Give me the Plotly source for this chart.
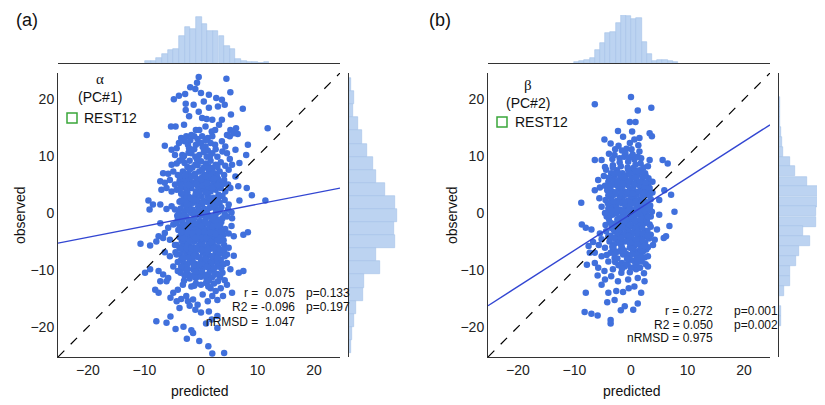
import plotly.graph_objects as go

# ---------------- data ----------------
# panel (a): alpha (PC#1) predicted vs observed
points_a = [
    (-0.4,23.9),(4.5,23.6),(-0.7,22.9),(-1.0,21.8),(-1.9,22.1),(5.2,21.2),(-2.8,20.9),(-3.9,20.6),
    (-4.8,20.0),(0,21.1),(1.4,20.8),(2.7,20.2),(3.7,19.9),(0.5,19.6),(-1.3,19.0),(-2.7,19.2),
    (1.4,18.5),(3.0,18.7),(4.2,19.0),(7.4,18.3),(-2.7,18.1),(-0.4,17.8),(5.3,17.3),(0.2,16.7),
    (1.0,16.5),(2.0,16.4),(-2.1,17.0),(3.7,16.4),(-9.6,13.7),(-4.5,15.2),(-5.3,15.2),(-3.0,15.5),
    (-0.9,14.6),(-0.3,14.6),(0.8,15.2),(1.9,14.3),(2.5,14.6),(3.2,15.5),(5.2,14.6),(6.2,14.9),
    (6.5,13.9),(11.8,14.9),(-3.5,13.2),(-2.6,13.5),(-1.7,13.7),(-1.2,13.5),(0.2,13.5),(1.2,13.2),
    (2.0,13.5),(4.6,13.7),(5.1,13.5),(5.8,14.0),(-3.9,12.3),(-2.9,12.6),(-2.3,12.0),(-6.4,11.8),
    (-5.2,11.1),(-4.3,11.4),(-2.1,11.4),(-0.9,12.0),(0,12.3),(0.8,11.7),(1.7,12.3),(3.7,12.6),
    (4.3,11.7),(8.3,12.0),(6.1,11.1),(8.0,10.2),(-4.6,10.2),(-3.3,10.2),(-1.7,10.5),(-1.0,9.9),
    (-0.3,10.2),(1.0,9.9),(2.0,10.5),(2.9,9.9),(3.8,10.8),(4.6,10.5),(5.1,9.5),(-5.2,8.5),
    (-4.3,8.7),(-3.8,9.2),(-2.9,8.8),(-2.0,9.2),(-1.0,8.5),(0,9.1),(0.9,8.7),(1.7,9.2),
    (2.6,8.5),(3.5,8.9),(4.3,8.3),(5.5,8.5),(6.8,8.8),(-6.7,7.0),(-5.8,6.9),(-4.9,7.3),
    (-4.1,6.7),(-3.2,7.3),(-2.3,7.0),(-1.3,6.7),(-0.3,7.3),(0.6,6.7),(1.4,7.3),(2.4,7.0),
    (3.3,7.3),(4.1,6.7),(4.9,7.6),(6.1,6.4),(-7.2,5.6),(-6.4,5.3),(-5.5,5.8),(-4.6,5.0),
    (-3.8,5.6),(-2.9,5.3),(-2.0,5.8),(-1.2,5.3),(-0.3,5.6),(0.6,5.0),(1.4,5.8),(2.3,5.3),
    (3.2,5.6),(4.1,5.8),(4.8,5.0),(6.6,4.7),(8.1,4.4),(-7.0,4.1),(-6.1,4.4),(-5.2,3.8),
    (-4.3,4.1),(-3.5,4.4),(-2.6,3.8),(-1.7,4.4),(-0.9,3.8),(0,4.1),(0.9,4.4),(1.7,3.8),
    (2.6,4.1),(3.5,4.4),(4.3,3.8),(5.2,4.4),(-9.3,2.2),(-8.5,1.5),(-9.1,0.6),(-7.2,1.5),
    (-6.1,0.7),(-5.2,1.2),(-4.6,0.6),(-3.8,2.0),(-3.1,1.5),(-2.3,2.3),(-1.4,1.8),(-0.6,2.0),
    (0.2,1.5),(1.0,2.0),(1.7,1.5),(2.5,2.3),(3.3,1.8),(4.2,2.3),(4.9,1.5),(6.8,2.2),
    (9.0,3.1),(11.4,2.2),(4.8,0.6),(5.4,0.1),
    (-10.7,-5.4),(-9.0,-5.7),(-7.9,-5.0),(-7.2,-1.8),(-6.4,-3.5),(-5.8,-2.6),(-4.9,-2.0),(-4.1,-1.2),
    (-3.5,-0.3),(-2.6,-0.6),(-1.7,0),(-0.9,-0.5),(0.3,-0.3),(1.4,-0.6),(2.6,-0.2),(3.8,-0.9),
    (4.6,-0.6),(5.5,-0.9),(5.4,-2.3),(4.9,-3.6),(5.8,-4.1),(7.5,-3.8),(8.3,-3.4),(-7.5,-4.1),
    (-6.7,-4.4),(-5.5,-4.7),(-4.6,-5.6),(-3.8,-6.1),(-2.9,-5.3),(-2.0,-5.8),(-1.2,-5.0),(-0.3,-5.6),
    (0.6,-4.7),(1.4,-5.3),(2.3,-5.8),(3.2,-5.0),(4.1,-5.6),(4.9,-6.1),(4.2,-7.6),(5.8,-7.5),
    (-6.4,-6.9),(-5.5,-7.6),(-4.3,-7.3),(-3.5,-8.2),(-2.6,-7.0),(-1.7,-7.9),(-0.9,-7.3),(0,-8.2),
    (0.9,-7.6),(1.7,-8.5),(2.6,-7.0),(3.5,-8.2),(4.6,-8.8),(-9.9,-10.5),(-9.0,-9.9),(-7.5,-10.2),
    (-6.7,-10.8),(-5.8,-11.4),(-7.2,-12.0),(-6.1,-12.0),(-4.9,-9.4),(-4.1,-10.2),(-3.2,-9.6),(-2.3,-10.8),
    (-1.4,-9.9),(-0.6,-10.5),(0.3,-9.6),(1.2,-10.8),(2.0,-9.9),(2.9,-9.4),(3.8,-10.5),(5.2,-9.9),
    (6.7,-10.5),(7.5,-10.2),(-8.1,-13.5),(-7.5,-14.0),(-4.9,-14.0),(-4.1,-13.5),(-3.2,-12.6),(-2.6,-14.6),
    (-1.7,-12.9),(-0.9,-12.4),(0,-12.6),(0.9,-12.3),(1.7,-13.2),(2.6,-13.7),(3.5,-13.2),(4.6,-12.6),
    (5.5,-14.0),(-5.4,-14.9),(-4.3,-15.5),(-3.5,-15.1),(-2.3,-15.5),(-1.4,-15.2),(-0.6,-16.1),(0.3,-14.3),
    (1.2,-15.5),(2.0,-14.6),(2.9,-15.3),(3.9,-14.6),(-3.8,-16.7),(-2.0,-16.3),(-1.0,-17.0),(0,-17.5),
    (1.4,-17.3),(-7.9,-19.0),(-6.1,-19.3),(-5.4,-18.2),(-4.5,-20.4),(-3.1,-20.0),(-1.7,-20.6),(0.9,-19.4),
    (1.9,-18.7),(2.9,-18.1),(-2.5,-22.1),(-0.3,-22.5),(1.3,-23.4),(2.0,-24.7),(4.1,-24.6),(-1.4,-21.1),
    (2.9,-20.2),
    (-3.0,3.0),(-2.1,2.8),(-1.0,3.1),(0.1,2.9),(1.2,3.0),(2.2,2.7),(3.1,3.2),
    (-3.6,0.8),(-2.5,1.0),(-1.5,0.6),(-0.5,1.1),(0.6,0.7),(1.5,0.9),(2.6,0.6),(3.6,1.0),
    (-3.2,-1.0),(-2.1,-1.3),(-1.2,-0.9),(-0.2,-1.4),(0.8,-1.1),(1.9,-1.5),(3.0,-1.2),
    (-3.7,-2.4),(-2.6,-2.7),(-1.6,-2.2),(-0.6,-2.6),(0.4,-2.3),(1.4,-2.8),(2.4,-2.5),(3.4,-2.3),
    (-3.0,-3.6),(-2.0,-3.9),(-1.0,-3.5),(0.0,-3.8),(1.0,-3.6),(2.0,-3.9),(3.0,-3.5),(4.0,-3.8),
    (-3.4,-4.9),(-2.4,-4.5),(-0.5,-4.6),(0.2,-5.2),(1.9,-4.6),(2.7,-4.3),
    (-3.1,-6.6),(-2.3,-6.4),(-1.3,-6.7),(-0.3,-6.4),(0.7,-6.6),(1.7,-6.3),(2.7,-6.5),(3.6,-6.8),
    (-3.0,-8.8),(-2.0,-8.6),(-1.0,-8.9),(0.5,-9.0),(1.4,-8.8),(2.4,-8.5),(3.3,-9.1),
    (-2.0,-11.5),(-0.9,-11.4),(0.0,-11.2),(1.0,-11.6),(2.0,-11.3),(3.0,-12.0),
    (-3.2,6.0),(-2.2,6.2),(-0.8,6.0),(0.2,6.3),(1.0,6.1),(2.0,6.2),(3.0,6.0),
    (-3.0,10.0),(-1.2,11.2),(1.2,11.0),(2.5,12.0),(-1.5,8.0),(0.5,8.0),(2.0,7.9),
    (-2.5,4.5),(-1.5,5.0),(-0.5,4.6),(0.5,5.4),(1.5,4.8),(2.5,4.6),(-3.5,3.4),(-2.7,2.0),
    (-1.8,2.6),(-0.8,2.4),(0.4,2.2),(1.6,2.5),(2.8,1.6),(3.8,3.0),
    (-4.2,-0.5),(-2.9,0.3),(-2.0,1.4),(-1.1,0.2),(-0.2,0.5),(0.9,0.3),(2.0,1.1),(3.1,0.2),(4.2,-0.2),
    (-4.4,-1.8),(-3.3,-1.7),(-2.4,-2.0),(-1.4,-1.5),(-0.4,-2.0),(0.6,-1.7),(1.6,-2.1),(2.6,-1.4),(3.6,-1.6),
    (-4.0,-3.0),(-2.9,-2.9),(-1.9,-3.1),(-0.9,-2.8),(0.1,-3.1),(1.1,-2.9),(2.1,-3.2),(3.2,-2.9),(4.3,-2.8),
    (-3.8,-4.2),(-2.8,-4.0),(-1.8,-4.4),(-0.8,-4.1),(0.2,-4.4),(1.2,-4.2),(2.3,-4.6),(3.5,-4.4),
    (-4.3,-5.6),(-3.3,-5.9),(-2.3,-5.5),(-1.3,-6.0),(-0.2,-5.8),(0.9,-5.9),(2.0,-5.4),(3.0,-6.0),(4.1,-6.5),
    (-4.5,-6.9),(-3.6,-7.3),(-2.7,-7.7),(-1.8,-7.0),(-0.7,-7.7),(0.3,-7.0),(1.3,-7.3),(2.2,-7.7),(3.2,-7.2),(4.6,-7.3),
    (-4.1,-8.6),(-2.5,-9.2),(-1.5,-8.3),(-0.5,-9.5),(0.8,-8.5),(1.9,-9.3),(2.9,-8.3),(4.0,-9.0),
    (-3.6,-10.5),(-2.6,-10.1),(-1.6,-11.0),(0.2,-10.3),(0.8,-11.0),(1.6,-10.2),(2.5,-10.8),(3.4,-11.3),(4.2,-11.8),
    (-3.0,-11.9),(-1.2,-12.8),(1.3,-12.9),(2.3,-12.4),
    (-3.8,6.4),(-2.6,5.9),(-1.6,6.4),(0.0,5.8),(1.7,6.6),(2.8,6.5),(3.9,5.1),
    (-2.4,8.1),(-0.6,8.4),(1.3,8.2),(2.9,8.1),(-3.3,9.5),(-0.7,9.4),(0.5,10.7),(1.6,10.0),
    (-2.2,10.6),(0.3,11.6),(-0.6,13.0),(0.8,12.8),(2.6,11.2),(-1.9,12.8),
    (-3.5,2.2),(-2.4,3.6),(-1.3,2.3),(-0.3,3.4),(0.8,3.6),(1.9,2.1),(3.0,2.5),
    (-3.9,-0.1),(-3.0,-0.4),(-2.2,0.4),(-1.1,-0.2),(0.0,-0.4),(1.1,-0.1),(2.2,-0.6),(3.3,0.5),
    (-3.0,-2.0),(-2.0,-2.5),(-1.0,-1.9),(0.0,-2.3),(1.0,-1.8),(2.0,-2.4),(3.0,-2.2),
    (-3.5,-3.4),(-2.4,-3.3),(-1.4,-3.6),(-0.4,-3.3),(0.6,-3.3),(1.6,-3.4),(2.6,-3.7),(3.6,-3.3),
    (-3.1,-4.5),(-2.0,-4.9),(-1.0,-4.4),(0.9,-4.4),(1.8,-5.1),(2.9,-4.8),(4.0,-4.8),
    (-3.7,-6.3),(-2.6,-6.1),(-1.7,-6.3),(-0.8,-6.2),(0.2,-6.5),(1.2,-6.5),(2.2,-6.2),(3.3,-6.4),
    (-3.2,-7.9),(-2.1,-7.9),(-1.2,-7.5),(-0.2,-7.8),(0.9,-8.1),(1.9,-7.6),(2.9,-7.9),
    (-3.5,-9.4),(-2.4,-9.9),(-1.3,-9.2),(-0.2,-9.0),(1.1,-9.5),(2.3,-9.8),(3.6,-9.7),
    (-2.9,-11.0),(-1.0,-10.3),(1.4,-11.9),(2.9,-10.7),
    (-3.6,4.8),(-2.1,4.9),(-0.8,5.1),(0.3,4.8),(1.0,5.2),(2.0,4.4),(3.0,4.9),
    (-2.8,6.6),(-1.0,6.9),(0.8,6.5),(2.3,6.0),(-1.9,7.7),(0.2,7.6),(1.3,7.8),
]

# panel (b): beta (PC#2) predicted vs observed
points_b = [
    (0,20.4),(-6.4,19.1),(3.6,18.5),(1.2,18.0),(-0.2,16.0),(0.8,16.0),(-2.3,14.4),(3.3,14.0),
    (3.7,13.5),(-4.7,12.9),(0.6,12.9),(1.3,11.9),(-3.6,12.2),(-2.2,11.8),(-0.8,11.3),(0.1,11.2),
    (1.5,10.8),(-6.4,9.3),(-5.2,9.3),(-3.9,10.4),(-2.9,10.2),(-1.2,9.9),(0.6,9.4),(1.8,9.6),
    (3.3,9.3),(5.6,9.3),(6.5,8.7),(-4.6,8.1),(-3.2,8.4),(-5.8,5.8),(-6.4,4.0),(-5.6,2.6),
    (-8.8,1.8),(5.9,4.0),(7.1,3.2),(5.0,2.3),(3.3,0.8),(7.7,0.2),(-5.2,1.1),
    (-8.7,-2.0),(-8.0,-2.6),(-7.0,-2.9),(-6.7,-5.1),(-7.3,-7.0),(-7.8,-9.1),(-8.0,-14.0),(-8.2,-17.4),
    (-7.0,-17.7),(-5.9,-18.0),(-3.6,-18.8),(-3.6,-19.4),(-4.2,-15.7),(-2.9,-15.3),(-1.8,-17.1),(-1.1,-16.4),
    (0.4,-17.0),(1.2,-15.9),(-4.0,-14.0),(-2.6,-13.7),(-1.4,-13.9),(-0.4,-13.2),(0.6,-12.9),(1.8,-14.0),
    (-5.9,-11.0),(-4.6,-11.7),(-5.2,-12.6),(-3.5,-11.1),(-2.3,-12.0),(-0.5,-11.7),(1.2,-11.4),(2.4,-12.0),
    (-5.8,-9.6),(-4.7,-10.2),(-3.2,-9.9),(-1.7,-10.5),(-0.2,-10.4),(0.9,-9.9),(2.3,-10.6),(-6.4,-8.8),
    (-6.4,-7.0),(-5.2,-7.6),(-4.0,-8.5),(-2.9,-7.9),(-1.6,-8.8),(-0.2,-8.2),(0.8,-9.1),(1.9,-8.5),
    (3.0,-9.4),(3.0,-7.6),(-7.5,-5.8),(-5.7,-5.6),(-4.6,-6.1),(-3.2,-6.4),(-1.7,-5.8),(-0.2,-6.1),
    (1.2,-6.7),(2.7,-6.4),(3.9,-5.6),(3.5,-3.8),(5.8,-4.4),(6.2,-4.1),(6.8,-2.3),(5.0,-0.3),
    (3.5,-0.6),(2.4,-1.8),(1.2,-2.9),(-0.2,-3.5),(-1.6,-4.1),(-2.9,-3.2),(-4.0,-4.1),(-5.2,-4.6),
    (-5.5,-3.6),(-3.5,-1.8),(-2.0,-0.9),(-0.6,-0.3),(0.6,-0.9),(1.8,-0.5),(3.3,-2.0),(4.6,-2.9),
    (4.2,-4.7),(0.8,-5.3),(-2.3,-2.6),(-1.1,-2.3),(0.1,-2.3),(1.2,-2.0),(2.4,-3.2),(1.8,-5.1),
    (-1.4,-7.3),(1.2,-7.6),(-1.1,-9.4),
    (-3.5,7.0),(-2.5,7.5),(-1.5,7.0),(-0.5,7.6),(0.5,7.2),(1.5,7.5),(2.5,7.0),
    (-4.0,5.5),(-3.0,5.8),(-2.0,5.3),(-1.0,5.7),(0.0,5.4),(1.0,5.8),(2.0,5.5),(3.0,5.2),
    (-4.2,4.0),(-3.2,3.7),(-2.2,4.2),(-1.2,3.8),(-0.2,4.1),(0.8,3.7),(1.8,4.2),(2.8,3.9),(3.8,3.6),
    (-4.5,2.3),(-3.5,2.6),(-2.5,2.1),(-1.5,2.5),(-0.5,2.2),(0.5,2.6),(1.5,2.3),(2.5,2.0),(3.5,2.4),
    (-4.0,0.8),(-3.0,1.1),(-2.0,0.6),(-1.0,1.0),(0.0,0.7),(1.0,1.2),(2.0,0.8),(3.0,1.0),
    (-4.3,-0.6),(-3.3,-0.3),(-1.5,-0.5),(-0.2,-1.2),(1.2,-0.2),(2.2,-1.0),
    (-3.8,-1.6),(-2.8,-1.9),(-1.8,-1.5),(-0.8,-1.7),(0.6,-1.5),(1.8,-1.9),(2.8,-1.4),
    (-3.0,-3.0),(-1.8,-3.4),(-0.8,-3.0),(0.5,-3.3),(1.6,-3.7),(2.9,-3.1),
    (-3.8,-5.0),(-2.4,-4.8),(-0.6,-4.5),(0.3,-4.8),(1.5,-4.4),(2.5,-5.2),
    (-3.6,-7.0),(-2.4,-6.8),(-0.8,-7.2),(0.4,-6.9),(1.6,-7.0),(2.4,-7.8),
    (-2.2,-9.2),(-0.6,-9.0),(0.5,-8.4),(1.6,-9.6),
    (-2.0,8.9),(-0.5,9.0),(0.8,8.5),(2.2,8.0),(-1.0,10.5),(2.6,6.5),(3.8,5.5),(-4.8,6.5),(-5.5,4.5),
    (-3.9,6.2),(-2.9,6.6),(-1.9,6.1),(-0.9,6.6),(0.1,6.2),(1.1,6.6),(2.1,6.3),(3.1,6.1),
    (-4.6,4.8),(-3.6,4.6),(-2.6,4.9),(-1.6,4.6),(-0.6,4.9),(0.4,4.6),(1.4,4.9),(2.4,4.6),(3.3,4.4),
    (-4.0,3.1),(-3.0,3.2),(-2.0,3.0),(-1.0,3.2),(0.0,3.0),(1.0,3.2),(2.0,3.0),(3.0,3.1),
    (-3.6,1.6),(-2.6,1.4),(-1.6,1.7),(-0.6,1.4),(0.4,1.7),(1.4,1.5),(2.4,1.5),(3.4,1.3),
    (-4.6,0.0),(-3.7,0.1),(-2.6,-0.1),(-1.7,0.2),(-0.8,0.1),(0.3,-0.3),(1.6,0.3),(2.7,-0.2),(3.7,0.2),
    (-4.5,-2.1),(-3.0,-2.4),(-2.0,-2.2),(-0.4,-2.6),(0.8,-2.5),(2.0,-2.6),(3.5,-2.4),
    (-4.4,-3.2),(-3.6,-4.0),(-2.4,-3.8),(-1.2,-3.8),(0.0,-4.1),(1.0,-3.7),(2.2,-4.2),(3.2,-4.5),
    (-3.0,-5.5),(-2.0,-5.3),(-1.1,-5.0),(0.6,-5.8),(1.8,-6.0),(3.0,-6.0),
    (-4.3,-7.4),(-3.1,-6.2),(-1.8,-6.6),(-0.2,-7.5),(0.9,-7.2),(2.1,-6.8),(-2.8,-8.6),(-1.6,-9.8),
    (0.0,-9.6),(1.2,-8.6),(2.6,-9.0),
    (-4.4,7.6),(-3.2,8.0),(-1.8,8.2),(-0.6,8.0),(0.4,7.9),(1.7,8.7),(3.0,8.2),(-3.3,9.5),
    (-2.0,9.6),(-0.2,9.8),(1.2,9.9),(-1.6,11.0),(0.3,10.3),(-2.8,11.2),(-0.2,12.3),(1.5,13.2),
    (-1.4,13.4),(0.2,14.3),
    (-3.4,5.0),(-2.4,5.5),(-1.4,5.2),(-0.4,5.6),(0.6,5.0),(1.6,5.5),(2.6,5.3),
    (-3.8,3.4),(-2.7,3.6),(-1.7,3.5),(-0.7,3.6),(0.3,3.4),(1.3,3.8),(2.3,3.5),(3.3,3.2),
    (-4.1,1.7),(-3.1,2.0),(-2.1,1.9),(-1.1,2.0),(-0.1,1.8),(0.9,2.0),(1.9,1.9),(2.9,1.8),
    (-3.4,0.4),(-2.4,0.5),(-1.4,0.3),(-0.4,0.5),(0.6,0.3),(1.5,0.6),(2.5,0.3),(3.3,0.6),
    (-3.9,-1.0),(-2.4,-1.1),(-1.2,-1.1),(0.0,-0.6),(0.9,-1.3),(1.7,-1.2),(3.0,-0.7),
    (-3.4,-2.7),(-2.6,-2.9),(-1.5,-2.6),(-0.2,-2.1),(1.2,-3.3),(2.1,-3.6),(3.0,-3.9),
    (-3.0,-4.4),(-1.8,-4.4),(-0.4,-4.0),(0.9,-4.6),(2.0,-4.8),(-3.3,-5.9),(-1.6,-6.1),(-0.2,-5.3),
    (1.1,-5.5),(2.4,-5.8),(-2.9,-7.2),(-1.2,-6.6),(0.3,-6.3),(1.7,-7.6),(-2.4,-8.0),(-0.7,-8.1),
    (0.2,-7.2),(1.0,-8.0),(-3.0,6.9),(-1.2,6.3),(0.8,6.3),(1.9,7.1),(-2.2,7.0),(-0.3,7.0),(1.0,7.4),
]

# marginal histograms (bin centres and heights)
top_a_centers = [-9.4,-8.4,-7.4,-6.4,-5.4,-4.4,-3.4,-2.4,-1.4,-0.4,0.6,1.6,2.6,3.6,4.6,5.6,6.6,7.6,8.6,9.6,10.6,11.6]
top_a_counts  = [5,7,15,27,40,43,80,107,102,138,117,97,95,82,52,43,12,6,4,2,0,2]
top_a_width = 0.99

top_b_centers = [-9.63,-8.71,-7.79,-6.87,-5.95,-5.03,-4.11,-3.19,-2.27,-1.35,-0.43,0.49,1.41,2.33,3.25,4.17,5.09,6.01,6.93,7.85]
top_b_counts  = [3,6,8,15,40,60,90,93,120,147,140,133,134,62,28,7,8,10,7,2]
top_b_width = 0.92

right_a_centers = [22.55,20.25,17.95,15.65,13.35,11.05,8.75,6.45,4.15,1.85,-0.45,-2.75,-5.05,-7.35,-9.65,-11.95,-14.25,-16.55,-18.85,-21.15,-23.45]
right_a_counts  = [7,15,12,27,40,54,72,80,107,137,144,134,137,82,92,45,42,22,14,10,6]
right_a_width = 2.3

right_b_centers = [19.45,17.7,15.95,14.2,12.5,10.8,9.0,7.3,5.5,3.8,2.0,0.3,-1.5,-3.2,-5.0,-6.7,-8.5,-10.2,-12.0,-13.7,-15.5,-17.2,-19.0]
right_b_counts  = [3,3,4,7,10,12,34,47,84,122,128,112,112,72,94,60,52,34,34,14,0,7,5]
right_b_width = 1.75

# fitted regression lines (slope, intercept) and statistics
fit_a = (0.194, -0.39)
fit_b = (0.637, -0.18)
stats_a = ["r =  0.075", "R2 = -0.096", "nRMSD =  1.047"]
pvals_a = ["p=0.133", "p=0.197"]
stats_b = ["r = 0.272", "R2 = 0.050", "nRMSD = 0.975"]
pvals_b = ["p=0.001", "p=0.002"]

axis_lo, axis_hi = -25.3, 24.6
ticks = [-20, -10, 0, 10, 20]

# ---------------- styling ----------------
W, H = 825, 405
OFF = 8  # page body margin that the browser adds around the figure

def px(x):
    return (x - OFF) / W
def py(y):
    return 1 - (y - OFF) / H

DOT = "#4070dc"
FITC = "#3246d2"
HISTC = "#bcd3f1"
HISTE = "#a4c1ea"
AXC = "#333333"
FONT = "Liberation Sans, Arial, sans-serif"

fig = go.Figure()

def add_panel(k, pts, fit, topc, topn, topw, rc, rn, rw, xdom, ydom, topdom, rdom, toprange, rrange):
    xs = [p[0] for p in pts]
    ys = [p[1] for p in pts]
    n1 = "" if k == 0 else str(3*k+1)
    xa, ya = "x" + n1, "y" + n1
    fig.add_trace(go.Scatter(x=xs, y=ys, mode="markers", xaxis=xa, yaxis=ya,
                             marker=dict(color=DOT, size=6.5, line=dict(width=0)), showlegend=False))
    fig.add_trace(go.Scatter(x=[axis_lo, axis_hi], y=[axis_lo, axis_hi], mode="lines", xaxis=xa, yaxis=ya,
                             line=dict(color="black", width=1.2, dash="dash"), showlegend=False))
    s, b = fit
    fig.add_trace(go.Scatter(x=[axis_lo, axis_hi], y=[s*axis_lo+b, s*axis_hi+b], mode="lines", xaxis=xa, yaxis=ya,
                             line=dict(color=FITC, width=1.4), showlegend=False))
    xt, yt = f"x{3*k+2}", f"y{3*k+2}"
    fig.add_trace(go.Bar(x=topc, y=topn, width=topw, xaxis=xt, yaxis=yt,
                         marker=dict(color=HISTC, line=dict(color=HISTE, width=0.6)), showlegend=False))
    xr, yr = f"x{3*k+3}", f"y{3*k+3}"
    fig.add_trace(go.Bar(y=rc, x=rn, width=rw, orientation="h", xaxis=xr, yaxis=yr,
                         marker=dict(color=HISTC, line=dict(color=HISTE, width=0.6)), showlegend=False))

    main_common = dict(range=[axis_lo, axis_hi], showgrid=False, zeroline=False, showline=True,
                       linecolor=AXC, linewidth=1, ticks="", tickvals=ticks,
                       tickfont=dict(size=14, color="#222", family=FONT))
    fig.update_layout(**{
        f"xaxis{n1}": dict(domain=xdom, anchor=f"y{n1}", **main_common),
        f"yaxis{n1}": dict(domain=ydom, anchor=f"x{n1}", **main_common),
        f"xaxis{3*k+2}": dict(domain=xdom, anchor=f"y{3*k+2}", range=[axis_lo, axis_hi], showline=True,
                              linecolor=AXC, linewidth=1, showgrid=False, zeroline=False, showticklabels=False, ticks=""),
        f"yaxis{3*k+2}": dict(domain=topdom, anchor=f"x{3*k+2}", range=toprange, visible=False),
        f"xaxis{3*k+3}": dict(domain=rdom, anchor=f"y{3*k+3}", range=rrange, visible=False),
        f"yaxis{3*k+3}": dict(domain=ydom, anchor=f"x{3*k+3}", range=[axis_lo, axis_hi], showline=True,
                              linecolor=AXC, linewidth=1, showgrid=False, zeroline=False, showticklabels=False, ticks=""),
    })

ydom = [py(357), py(73)]
topdom = [py(63), py(15)]
add_panel(0, points_a, fit_a, top_a_centers, top_a_counts, top_a_width,
          right_a_centers, right_a_counts, right_a_width,
          [px(58), px(340)], ydom, topdom, [px(349), px(399)], [0, 144], [0, 150])
add_panel(1, points_b, fit_b, top_b_centers, top_b_counts, top_b_width,
          right_b_centers, right_b_counts, right_b_width,
          [px(488), px(770)], ydom, topdom, [px(779), px(825)], [0, 144], [0, 138])

ann = []
def text(x, y, t, size=14, xanchor="center", family=FONT, angle=0):
    ann.append(dict(x=px(x), y=py(y), xref="paper", yref="paper", text=t, showarrow=False,
                    xanchor=xanchor, yanchor="middle", textangle=angle,
                    font=dict(size=size, color="#111", family=family)),)

text(27, 20, "(a)", 18)
text(440, 20, "(b)", 18)
text(200, 391, "predicted", 14)
text(632, 391, "predicted", 14)
text(20, 215, "observed", 14, angle=-90)
text(452, 215, "observed", 14, angle=-90)
text(100, 79, "α", 15, family="Liberation Serif, serif")
text(100, 97, "(PC#1)", 14)
text(82, 118, "REST12", 14, xanchor="left")
text(528, 85, "β", 15, family="Liberation Serif, serif")
text(528, 103, "(PC#2)", 14)
text(513, 122, "REST12", 14, xanchor="left")
for t, yy in zip(stats_a, [293, 307, 322]):
    text(297, yy, t, 12, xanchor="right")
for t, yy in zip(pvals_a, [293, 307]):
    text(304, yy, t, 12, xanchor="left")
for t, yy in zip(stats_b, [311, 325, 338]):
    text(715, yy, t, 12, xanchor="right")
for t, yy in zip(pvals_b, [311, 325]):
    text(732, yy, t, 12, xanchor="left")

shapes = [
    dict(type="rect", xref="paper", yref="paper", x0=px(67), x1=px(77), y0=py(123), y1=py(113),
         line=dict(color="#3aa63a", width=1.5), fillcolor="rgba(0,0,0,0)"),
    dict(type="rect", xref="paper", yref="paper", x0=px(497), x1=px(507), y0=py(127), y1=py(117),
         line=dict(color="#3aa63a", width=1.5), fillcolor="rgba(0,0,0,0)"),
]

fig.update_layout(width=W, height=H, margin=dict(l=0, r=0, t=0, b=0),
                  paper_bgcolor="white", plot_bgcolor="white", bargap=0,
                  annotations=ann, shapes=shapes, font=dict(family=FONT))
fig.write_html("out.html")
